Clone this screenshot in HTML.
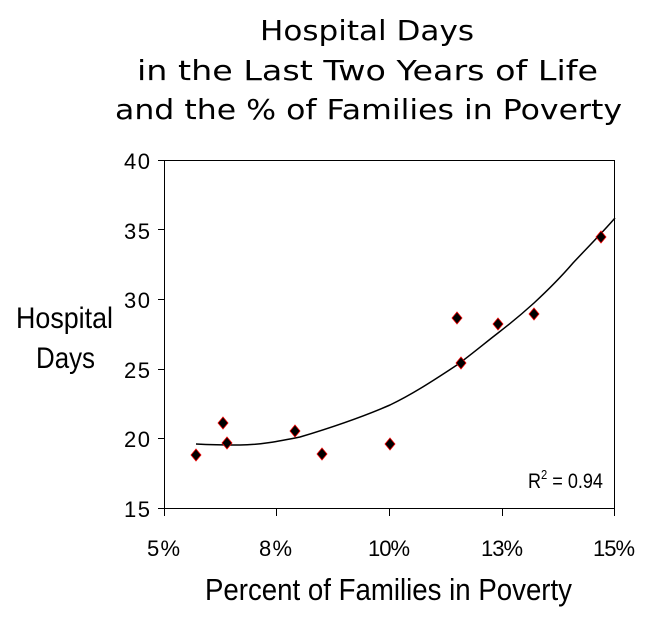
<!DOCTYPE html>
<html><head><style>
body{margin:0;background:#fff;width:657px;height:620px;overflow:hidden}
svg{display:block}
.t{font-family:"Comic Sans MS","DejaVu Sans",sans-serif;font-size:28px}
.a{font-family:"Liberation Sans Narrow","Liberation Sans",sans-serif}
</style></head><body>
<svg width="657" height="620" xmlns="http://www.w3.org/2000/svg">
<text class="t" x="260" y="40" textLength="214" lengthAdjust="spacingAndGlyphs">Hospital Days</text>
<text class="t" x="137" y="80" textLength="461" lengthAdjust="spacingAndGlyphs">in the Last Two Years of Life</text>
<text class="t" x="115" y="119" textLength="507" lengthAdjust="spacingAndGlyphs">and the % of Families in Poverty</text>
<g stroke="#000" stroke-width="1" fill="none">
<rect x="164.5" y="160.5" width="450" height="348"/>
<path d="M158 160.5H164M158 229.5H164M158 299.5H164M158 369.5H164M158 438.5H164M158 508.5H164"/>
<path d="M164.5 508V516M276.5 508V516M389.5 508V516M502.5 508V516M614.5 508V516"/>
<path stroke-width="1.5" d="M196 444 C215 445 225 445 240 445 C260 445 280 441 300 437 C330 428 360 418 390 405 C415 393 437 378 457 365 C472 354 485 343 498 333 C511 323 523 313 534 303 C548 290 561 277 573 263 C588 247 602 233 615 218"/>
</g>
<g fill="#000" stroke="#e00" stroke-width="0.8">
<path d="M196 449l5 6-5 6-5-6z"/><path d="M223 417l5 6-5 6-5-6z"/><path d="M227 437l5 6-5 6-5-6z"/>
<path d="M295 425l5 6-5 6-5-6z"/><path d="M322 448l5 6-5 6-5-6z"/><path d="M390 438l5 6-5 6-5-6z"/>
<path d="M457 312l5 6-5 6-5-6z"/><path d="M461 357l5 6-5 6-5-6z"/><path d="M498 318l5 6-5 6-5-6z"/>
<path d="M534 308l5 6-5 6-5-6z"/><path d="M601 231l5 6-5 6-5-6z"/>
</g>
<g class="a" font-size="22" lengthAdjust="spacingAndGlyphs">
<text x="124" y="169" textLength="26">40</text><text x="124" y="239" textLength="26">35</text><text x="124" y="308" textLength="26">30</text>
<text x="124" y="378" textLength="26">25</text><text x="124" y="447" textLength="26">20</text><text x="124" y="517" textLength="26">15</text>
<text x="147" y="556" textLength="33">5%</text><text x="259" y="556" textLength="33">8%</text><text x="368" y="556" textLength="42">10%</text>
<text x="481" y="556" textLength="42">13%</text><text x="593" y="556" textLength="42">15%</text>
</g>
<text class="a" x="528" y="488" font-size="21" transform="translate(528 0) scale(0.86 1) translate(-528 0)">R<tspan font-size="13" dy="-9">2</tspan><tspan dy="9"> = 0.94</tspan></text>
<text class="a" x="16" y="328" font-size="30" textLength="97" lengthAdjust="spacingAndGlyphs">Hospital</text>
<text class="a" x="36" y="368" font-size="30" textLength="59" lengthAdjust="spacingAndGlyphs">Days</text>
<text class="a" x="205" y="600" font-size="31" textLength="367" lengthAdjust="spacingAndGlyphs">Percent of Families in Poverty</text>
</svg>
</body></html>
